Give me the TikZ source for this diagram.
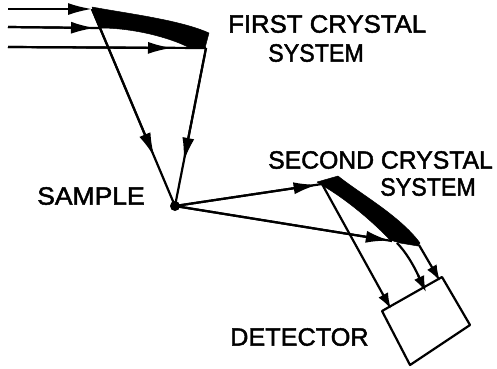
\documentclass[tikz,border=0pt]{standalone}
\usepackage{fontspec}
\newfontfamily\lblfont{Liberation Sans}[RawFeature={embolden=1.8}]
\usetikzlibrary{arrows.meta,calc}
\tikzset{
  ray/.style={line width=2.2pt,black},
  tip/.style={-{Latex[length=24pt,width=12pt]},line width=2.2pt},
  tipshort/.style={-{Latex[length=16pt,width=11pt]},line width=2.2pt},
  lbl/.style={font=\lblfont\fontsize{25}{27}\selectfont,inner sep=0pt,anchor=west,black},
  crystal/.style={fill=black,draw=black,line width=.5pt,line join=round}
}
\begin{document}
\begin{tikzpicture}[x=1pt,y=-1pt]
\useasboundingbox (0,0) rectangle (497,368);
\coordinate (s) at (175,206);
\coordinate (a1) at (8,9);\coordinate (a2) at (8,27);\coordinate (a3) at (8,47);
\coordinate (b1) at (92,9);\coordinate (b2) at (100,28);\coordinate (b3) at (206,48);
\coordinate (c1) at (322,184);\coordinate (c2) at (392,241);\coordinate (c3) at (419,245);
\coordinate (d1) at (391,309);\coordinate (d2) at (426,292);\coordinate (d3) at (440,281);
% first crystal
\fill[crystal] (92,7) .. controls (130,14) and (180,20) .. (209,33) -- (205,48) -- (188,47) .. controls (170,38) and (135,28) .. (100,28) -- cycle;
\draw[ray] (a2) -- (b2);
\draw[ray] (a3) -- (b3);
\draw[ray] (b1) -- (s);
\draw[ray] (b3) -- (s);
\draw[tip] (a1) -- (92,9);
\draw[tip] (a2) -- (95,28);
\draw[tip] (a3) -- (172,48);
\draw[tip] (b1) -- ($(b1)!0.75!(s)$) ;
\draw[tip] (b3) -- ($(b3)!0.72!(s)$) ;
% second crystal
\fill[crystal] (317,182) -- (338,176) .. controls (362,195) and (400,216) .. (420,243) -- (418,246) -- (400,243) -- (390,240) .. controls (375,224) and (350,202) .. (325,187) -- cycle;
\draw[ray] (s) -- (c1);
\draw[ray] (s) -- (c2);
\draw[tip] (s) -- ($(s)!0.97!(c1)$);
\draw[tip] (s) -- ($(s)!0.99!(c2)$);
\draw[tipshort] (c1) -- (d1);
\draw[ray] (397,243) .. controls (406,252) and (414,266) .. (419,277);
\draw[tipshort] (418,275) -- (d2);
\draw[tipshort] (c3) -- (d3);
\node[circle,fill=black,inner sep=0pt,minimum size=10pt] (sample) at (s) {};
% detector
\draw[line width=2.2pt,line join=round] (382,311) -- (442,277) -- (470,325) -- (410,365) -- cycle;
\node[lbl] (t1) at (228,24) {\scalebox{1.03}[1]{FIRST CRYSTAL}};
\node[lbl] (t2) at (268,53) {\scalebox{0.93}[1]{SYSTEM}};
\node[lbl] (t3) at (37,196) {\scalebox{1.06}[1]{SAMPLE}};
\node[lbl] (t4) at (268,160) {\scalebox{0.99}[1]{SECOND CRYSTAL}};
\node[lbl] (t5) at (380,187) {\scalebox{0.93}[1]{SYSTEM}};
\node[lbl] (t6) at (230,337) {\scalebox{1.01}[1]{DETECTOR}};
\end{tikzpicture}
\end{document}
